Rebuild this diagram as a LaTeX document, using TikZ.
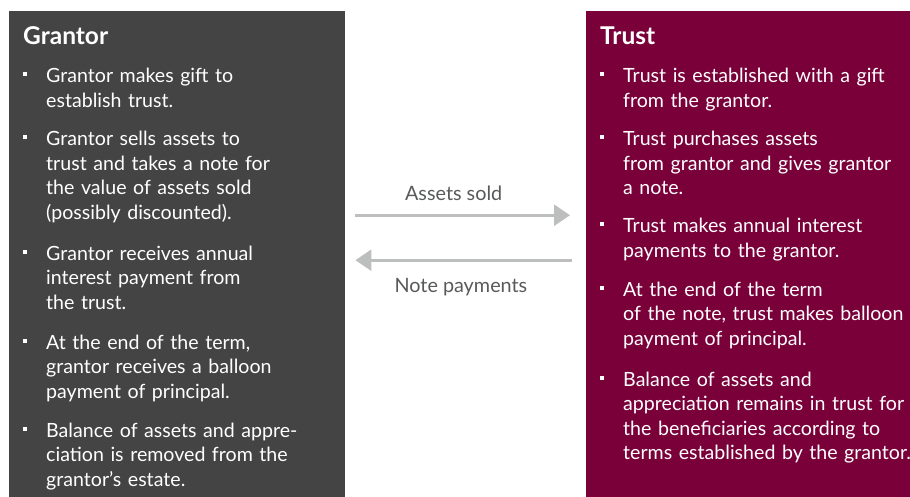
\documentclass[tikz,border=0pt]{standalone}
\usepackage{fontspec}
\setmainfont{Lato}
\usetikzlibrary{arrows.meta}
\definecolor{grantorgray}{HTML}{434443}
\definecolor{trustred}{HTML}{7A003A}
\definecolor{arrowgray}{HTML}{BDBFBE}
\definecolor{labelgray}{HTML}{58595B}
\tikzset{
  panel/.style={anchor=north west, inner sep=0pt, minimum height=486pt},
  heading/.style={anchor=base west, inner sep=0pt, text=white,
    font=\fontsize{24.5}{28}\selectfont\bfseries},
  item/.style={anchor=base west, inner sep=0pt, align=left, text width=310pt,
    text=white, font=\fontsize{19.6}{24.5}\selectfont},
  bullet/.style={fill=white, inner sep=0pt, minimum size=4pt},
  flow/.style={draw=arrowgray, line width=2.7pt, -{Triangle[length=16pt,width=21pt]}},
  flowlabel/.style={text=labelgray, inner sep=0pt, anchor=base,
    font=\fontsize{19.8}{22}\selectfont}
}

\begin{document}
\begin{tikzpicture}[x=1pt, y=-1pt]
  \useasboundingbox (0,0) rectangle (910,497);

  % the two parties
  \node[panel, fill=grantorgray, minimum width=336pt] (grantor) at (9,11) {};
  \node[panel, fill=trustred, minimum width=324pt] (trust) at (586,11) {};

  % grantor side
  \node[heading] (ghead) at (23,45) {Grantor};
  \node[item] (g1) at (46,83)  {Grantor makes gift to\\establish trust.};
  \node[item] (g2) at (46,146) {Grantor sells assets to\\trust and takes a note for\\the value of assets sold\\(possibly discounted).};
  \node[item] (g3) at (46,260) {Grantor receives annual\\interest payment from\\the trust.};
  \node[item] (g4) at (46,349) {At the end of the term,\\grantor receives a balloon\\payment of principal.};
  \node[item] (g5) at (46,437) {Balance of assets and appre-\\ciation is removed from the\\grantor’s estate.};

  % trust side
  \node[heading] (thead) at (600,45) {Trust};
  \node[item] (t1) at (623,83)  {Trust is established with a gift\\from the grantor.};
  \node[item] (t2) at (623,146) {Trust purchases assets\\from grantor and gives grantor\\a note.};
  \node[item] (t3) at (623,233) {Trust makes annual interest\\payments to the grantor.};
  \node[item] (t4) at (623,296) {At the end of the term\\of the note, trust makes balloon\\payment of principal.};
  \node[item] (t5) at (623,386) {Balance of assets and\\appreciation remains in trust for\\the beneficiaries according to\\terms established by the grantor.};

  \foreach \n in {g1,g2,g3,g4,g5,t1,t2,t3,t4,t5}{
    \node[bullet] at ([shift={(-21,-8.5)}]\n.base west) {};
  }

  % sale and note payments
  \draw[flow, shorten <=10pt, shorten >=16pt]
    ([yshift=39pt]grantor.east) -- node[flowlabel, pos=0.45, yshift=15pt]{Assets sold}
    ([yshift=39pt]trust.west);
  \draw[flow, shorten <=14pt, shorten >=10pt]
    ([yshift=-6pt]trust.west) -- node[flowlabel, pos=0.52, yshift=-32pt]{Note payments}
    ([yshift=-6pt]grantor.east);
\end{tikzpicture}
\end{document}
